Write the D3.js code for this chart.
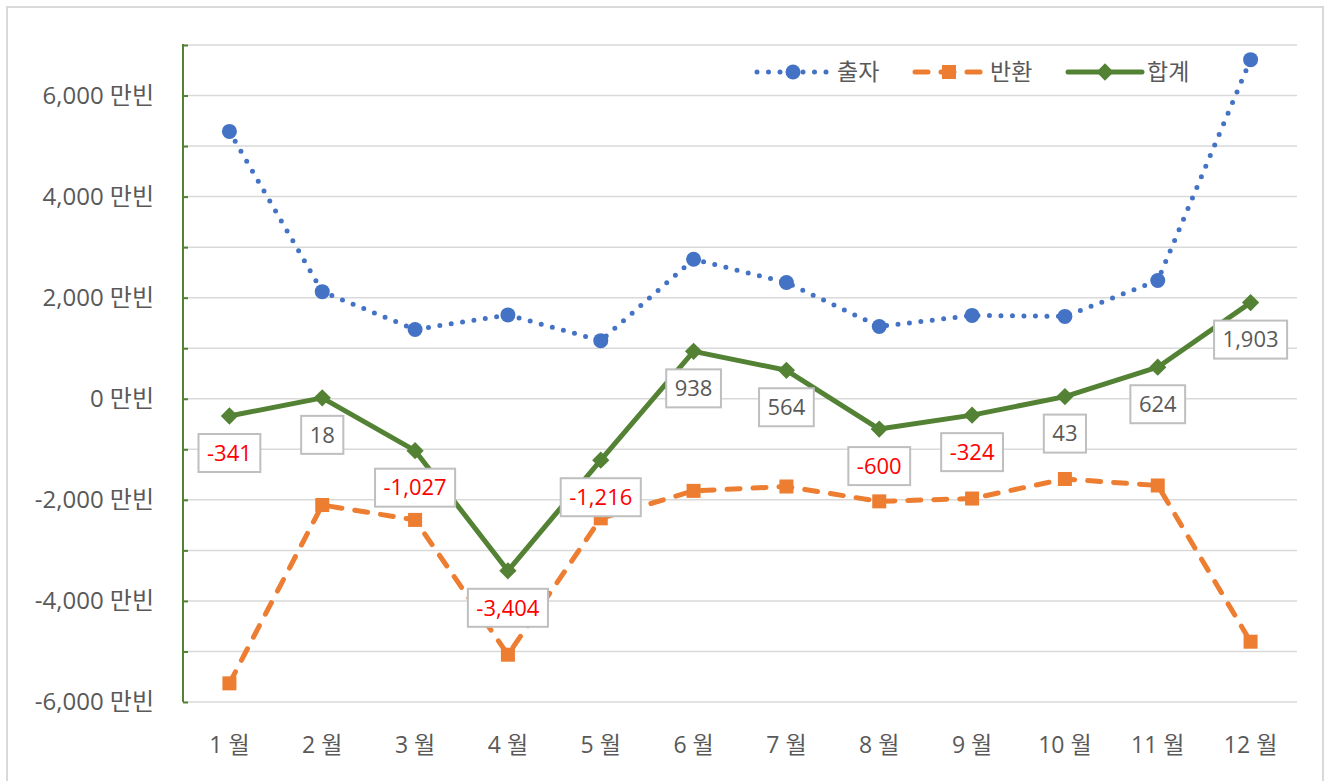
<!DOCTYPE html>
<html>
<head>
<meta charset="utf-8">
<script src="https://cdn.jsdelivr.net/npm/d3@7"></script>
<style>
  html, body { margin: 0; padding: 0; background: #ffffff; }
  svg { display: block; }
  text { font-family: "Open Sans", "Noto Sans CJK KR", sans-serif; }
</style>
</head>
<body>
<svg id="chart" width="1332" height="781"></svg>
<script>
// ---- data ----
const months = ["1 월", "2 월", "3 월", "4 월", "5 월", "6 월", "7 월", "8 월", "9 월", "10 월", "11 월", "12 월"];
const investment = [5290, 2120, 1370, 1660, 1150, 2760, 2300, 1430, 1650, 1630, 2340, 6710];   // 출자
const returned  = [-5631, -2102, -2397, -5064, -2366, -1822, -1736, -2030, -1974, -1587, -1716, -4807]; // 반환
const total     = [-341, 18, -1027, -3404, -1216, 938, 564, -600, -324, 43, 624, 1903];    // 합계
const yTicks = [-6000, -4000, -2000, 0, 2000, 4000, 6000];
const gridTicks = [-6000, -5000, -4000, -3000, -2000, -1000, 0, 1000, 2000, 3000, 4000, 5000, 6000, 7000];
const seriesNames = ["출자", "반환", "합계"];
const unit = "만빈";

// ---- layout ----
const svg = d3.select("#chart");
const plot = { left: 183, right: 1297, top: 45, bottom: 702 };
const fmt = v => d3.format(",")(v).replace("\u2212", "-");

const x = d3.scalePoint().domain(months).range([plot.left, plot.right]).padding(0.5);
const y = d3.scaleLinear().domain([-6000, 7000]).range([plot.bottom, plot.top]);

// outer border
svg.append("rect").attr("x", 7).attr("y", 7).attr("width", 1316).attr("height", 790)
  .attr("fill", "#fff").attr("stroke", "#d9d9d9").attr("stroke-width", 2);

// gridlines
svg.append("g").selectAll("line").data(gridTicks).join("line")
  .attr("x1", plot.left).attr("x2", plot.right)
  .attr("y1", d => y(d)).attr("y2", d => y(d))
  .attr("stroke", "#d9d9d9").attr("stroke-width", 1.5);

// y axis (green, ticks inside)
const yAxis = d3.axisRight(y).tickValues(gridTicks).tickSize(5).tickFormat("");
const gy = svg.append("g").attr("transform", `translate(${plot.left},0)`).call(yAxis);
gy.select(".domain").attr("stroke", "#548235").attr("stroke-width", 2).attr("d", `M0,${plot.top - 1}V${plot.bottom}`);
gy.selectAll(".tick line").attr("stroke", "#548235").attr("stroke-width", 2);

// y labels
svg.append("g").selectAll("text").data(yTicks).join("text")
  .attr("x", 154).attr("y", d => y(d)).attr("dy", "0.35em")
  .attr("text-anchor", "end").attr("fill", "#595959").attr("font-size", 24)
  .text(d => fmt(d) + " " + unit);

// x labels
svg.append("g").selectAll("text").data(months).join("text")
  .attr("x", d => x(d)).attr("y", 745).attr("dy", "0.35em")
  .attr("text-anchor", "middle").attr("fill", "#595959").attr("font-size", 23)
  .text(d => d);

// lines
const line = arr => d3.line().x((d, i) => x(months[i])).y(d => y(d))(arr);

svg.append("path").attr("d", line(investment)).attr("fill", "none")
  .attr("stroke", "#4472c4").attr("stroke-width", 5).attr("stroke-linecap", "round")
  .attr("stroke-dasharray", "0 11.5");
svg.append("path").attr("d", line(returned)).attr("fill", "none")
  .attr("stroke", "#ed7d31").attr("stroke-width", 5).attr("stroke-linecap", "round")
  .attr("stroke-dasharray", "13 13");
svg.append("path").attr("d", line(total)).attr("fill", "none")
  .attr("stroke", "#548235").attr("stroke-width", 5).attr("stroke-linejoin", "round");

// markers
svg.append("g").selectAll("circle").data(investment).join("circle")
  .attr("cx", (d, i) => x(months[i])).attr("cy", d => y(d)).attr("r", 7.5).attr("fill", "#4472c4");
svg.append("g").selectAll("rect").data(returned).join("rect")
  .attr("x", (d, i) => x(months[i]) - 7).attr("y", d => y(d) - 7)
  .attr("width", 14).attr("height", 14).attr("fill", "#ed7d31");
const diamond = d3.symbol().type(d3.symbolDiamond2).size(190);
svg.append("g").selectAll("path").data(total).join("path")
  .attr("transform", (d, i) => `translate(${x(months[i])},${y(d)})`)
  .attr("d", diamond).attr("fill", "#548235");

// data labels for 합계
const lg = svg.append("g");
total.forEach((v, i) => {
  const cx = x(months[i]), cy = y(v) + 37;
  const g = lg.append("g");
  const t = g.append("text").attr("x", cx).attr("y", cy).attr("dy", "0.35em")
    .attr("text-anchor", "middle").attr("font-size", 22)
    .attr("fill", v < 0 ? "#ff0000" : "#595959").text(fmt(v));
  const w = t.node().getComputedTextLength() + 17;
  g.insert("rect", "text").attr("x", cx - w / 2).attr("y", cy - 19)
    .attr("width", w).attr("height", 38)
    .attr("fill", "#fff").attr("stroke", "#bfbfbf").attr("stroke-width", 2);
});

// legend
const legY = 72;
const leg = [
  { x1: 757, x2: 829, tx: 837, color: "#4472c4", type: "circle" },
  { x1: 913, x2: 985, tx: 990, color: "#ed7d31", type: "square" },
  { x1: 1068, x2: 1142, tx: 1147, color: "#548235", type: "diamond" }
];
leg.forEach((l, i) => {
  const g = svg.append("g");
  const ln = g.append("line").attr("x1", l.x1).attr("x2", l.x2).attr("y1", legY).attr("y2", legY)
    .attr("stroke", l.color).attr("stroke-width", 5).attr("stroke-linecap", "round");
  if (l.type === "circle") ln.attr("stroke-dasharray", "0 11.5");
  if (l.type === "square") ln.attr("stroke-dasharray", "13 13").attr("x1", l.x1 + 2);
  const mx = (l.x1 + l.x2) / 2;
  if (l.type === "circle") g.append("circle").attr("cx", mx).attr("cy", legY).attr("r", 7.5).attr("fill", l.color);
  if (l.type === "square") g.append("rect").attr("x", mx - 7).attr("y", legY - 7).attr("width", 14).attr("height", 14).attr("fill", l.color);
  if (l.type === "diamond") g.append("path").attr("transform", `translate(${mx},${legY})`).attr("d", diamond).attr("fill", l.color);
  g.append("text").attr("x", l.tx).attr("y", legY).attr("dy", "0.35em")
    .attr("font-size", 23).attr("fill", "#595959").text(seriesNames[i]);
});
</script>
</body>
</html>
